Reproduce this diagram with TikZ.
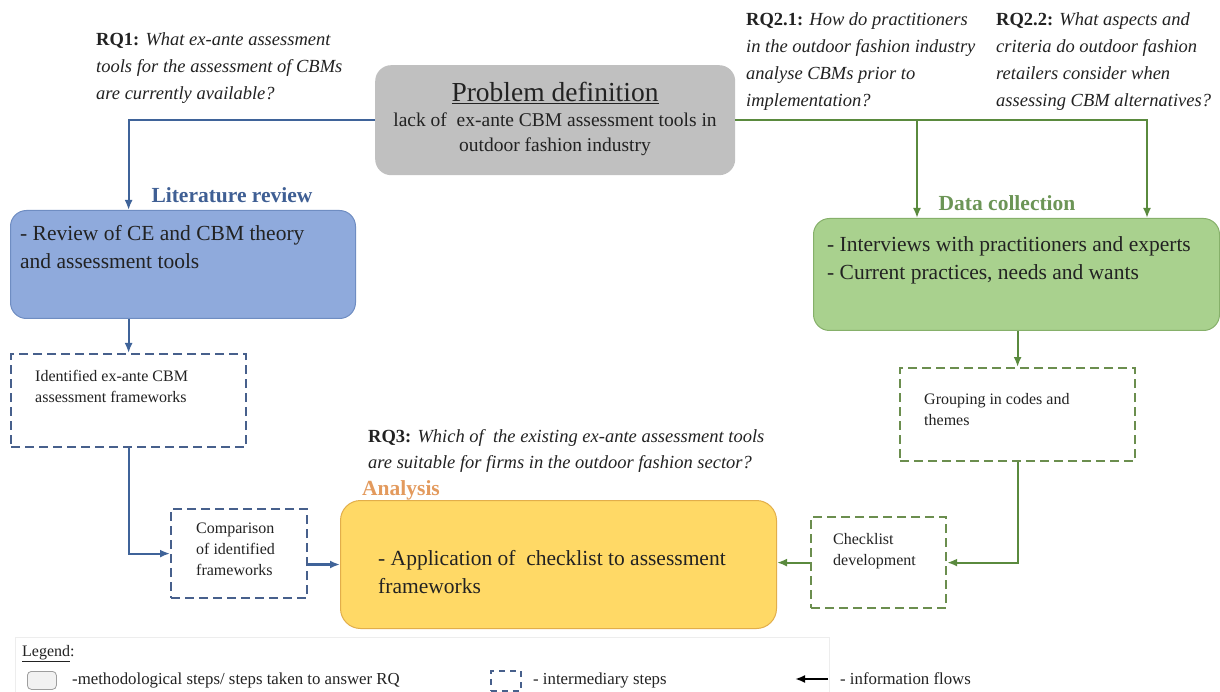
\documentclass[tikz,border=0pt]{standalone}
\usepackage{fontspec}
\setmainfont{Liberation Serif}
\usetikzlibrary{arrows.meta,calc}

\definecolor{probfill}{HTML}{C0C0C0}
\definecolor{litfill}{HTML}{8FAADC}
\definecolor{litline}{HTML}{6F8DC2}
\definecolor{datafill}{HTML}{A9D18E}
\definecolor{dataline}{HTML}{86B06A}
\definecolor{analfill}{HTML}{FFD966}
\definecolor{analline}{HTML}{E2AE4A}
\definecolor{blueflow}{HTML}{3F6399}
\definecolor{bluedash}{HTML}{47608C}
\definecolor{greenflow}{HTML}{5A8A3E}
\definecolor{greendash}{HTML}{6B8E4E}
\definecolor{bluehead}{HTML}{3F5F94}
\definecolor{greenhead}{HTML}{6C9556}
\definecolor{orangehead}{HTML}{E39A5D}
\definecolor{inktext}{HTML}{222222}

\newcommand{\setfs}[2]{\fontsize{#1}{#2}\selectfont}

\tikzset{
  stepbox/.style={anchor=north west, rounded corners=16pt, inner sep=0pt},
  midbox/.style={anchor=north west, inner sep=0pt, draw, line width=2.2pt,
    dash pattern=on 9pt off 5pt},
  flow/.style={line width=2.2pt, -{Latex[length=10pt,width=8pt]}},
  rq/.style={anchor=north west, inner sep=0pt, align=left, text=inktext,
    font=\setfs{18.5}{27}\itshape},
  boxtext/.style={anchor=north west, inner sep=0pt, align=left, text=inktext,
    font=\setfs{21.5}{28}},
  smalltext/.style={anchor=north west, inner sep=0pt, align=left, text=inktext,
    font=\setfs{16}{21}},
  heading/.style={anchor=base, inner sep=0pt, font=\setfs{21.5}{26}\bfseries},
  legendtext/.style={anchor=base west, inner sep=0pt, text=inktext,
    font=\setfs{16.8}{20}},
}

\begin{document}
\begin{tikzpicture}[x=1pt,y=-1pt]
\useasboundingbox (0,0) rectangle (1220,692);
\fill[white] (0,0) rectangle (1220,692);

% ---------- research questions ----------
\node[rq] (rq1) at (96,32) {\textbf{\upshape RQ1:} What ex-ante assessment\\tools for the assessment of CBMs\\are currently available?};
\node[rq] (rq21) at (746,12) {\textbf{\upshape RQ2.1:} How do practitioners\\in the outdoor fashion industry\\analyse CBMs prior to\\implementation?};
\node[rq] (rq22) at (996,12) {\textbf{\upshape RQ2.2:} What aspects and\\criteria do outdoor fashion\\retailers consider when\\assessing CBM alternatives?};
\node[rq,font=\setfs{18.5}{26}\itshape] (rq3) at (368,429) {\textbf{\upshape RQ3:} Which of \ the existing ex-ante assessment tools\\are suitable for firms in the outdoor fashion sector?};

% ---------- problem definition ----------
\node[stepbox, fill=probfill, minimum width=360pt, minimum height=110pt] (prob) at (375,65) {};
\node[anchor=base, inner sep=0pt, text=inktext, font=\setfs{27.5}{30}] (probtitle) at (555,102) {\underline{Problem definition}};
\node[anchor=north, inner sep=0pt, align=center, text=inktext, font=\setfs{19.5}{25}] (probtext) at (555,113) {lack of \ ex-ante CBM assessment tools in\\outdoor fashion industry};

% ---------- left branch: literature review ----------
\node[stepbox, fill=litfill, draw=litline, line width=1pt, minimum width=345pt, minimum height=108pt] (lit) at (10,210) {};
\node[heading, text=bluehead] (lithead) at (232,203) {Literature review};
\node[boxtext] (littext) at (20,225) {- Review of CE and CBM theory\\and assessment tools};

\node[midbox, draw=bluedash, minimum width=235pt, minimum height=93pt] (ident) at (10,353) {};
\node[smalltext] (identtext) at (35,370) {Identified ex-ante CBM\\assessment frameworks};

\node[midbox, draw=bluedash, minimum width=136pt, minimum height=89pt] (comp) at (170,508) {};
\node[smalltext] (comptext) at (196,523) {Comparison\\of identified\\frameworks};

% ---------- right branch: data collection ----------
\node[stepbox, fill=datafill, draw=dataline, line width=1pt, minimum width=406pt, minimum height=112pt] (data) at (813,218) {};
\node[heading, text=greenhead] (datahead) at (1007,211) {Data collection};
\node[boxtext] (datatext) at (827,236) {- Interviews with practitioners and experts\\- Current practices, needs and wants};

\node[midbox, draw=greendash, minimum width=235pt, minimum height=93pt] (group) at (899,367) {};
\node[smalltext] (grouptext) at (924,393) {Grouping in codes and\\themes};

\node[midbox, draw=greendash, minimum width=135pt, minimum height=91pt] (check) at (810,516) {};
\node[smalltext] (checktext) at (833,533) {Checklist\\development};

% ---------- analysis ----------
\node[stepbox, rounded corners=20pt, fill=analfill, draw=analline, line width=1pt, minimum width=436pt, minimum height=128pt] (anal) at (340,500) {};
\node[heading, anchor=base west, text=orangehead] (analhead) at (362,495) {Analysis};
\node[boxtext] (analtext) at (378,550) {- Application of \ checklist to assessment\\frameworks};

% ---------- information flows ----------
\draw[flow, blueflow] (prob.west) -| (ident.north |- lit.north);
\draw[flow, blueflow] (ident.north |- lit.south) -- (ident.north);
\draw[flow, blueflow] (ident.south) |- (comp.west);
\draw[flow, blueflow] (comp.east |- anal.west) -- (anal.west);

\coordinate (dA) at ($(data.north west)+(104,0)$);
\coordinate (dB) at ($(data.north west)+(334,0)$);
\draw[flow, greenflow] (prob.east) -| (dB);
\draw[flow, greenflow] (dA |- prob.east) -- (dA);
\draw[flow, greenflow] (group.north |- data.south) -- (group.north);
\draw[flow, greenflow] (group.south) |- (check.east);
\draw[flow, greenflow] (check.west) -- (anal.east |- check.west);

% ---------- legend ----------
\draw[black!7, line width=1pt] (15,692) |- (829,637) -- (829,692);
\node[anchor=base west, inner sep=0pt, text=inktext, font=\setfs{16}{18}] (leghead) at (22,656) {\underline{Legend}:};
\node[anchor=north west, inner sep=0pt, rounded corners=4pt, fill=black!5, draw=black!38, line width=0.8pt, minimum width=29pt, minimum height=18pt] (legstep) at (27,671) {};
\node[legendtext] (legsteptext) at (72,684) {-methodological steps/ steps taken to answer RQ};
\node[anchor=north west, inner sep=0pt, draw=bluedash, line width=1.8pt, dash pattern=on 6pt off 5pt, minimum width=30pt, minimum height=20pt] (legmid) at (490,670) {};
\node[legendtext] (legmidtext) at (533,684) {- intermediary steps};
\coordinate (legflowA) at (828,679);
\coordinate (legflowB) at (795,679);
\draw[line width=2.4pt, -{Latex[length=10pt,width=8pt]}] (legflowA) -- (legflowB);
\node[legendtext] (legflowtext) at (840,684) {- information flows};
\end{tikzpicture}
\end{document}
